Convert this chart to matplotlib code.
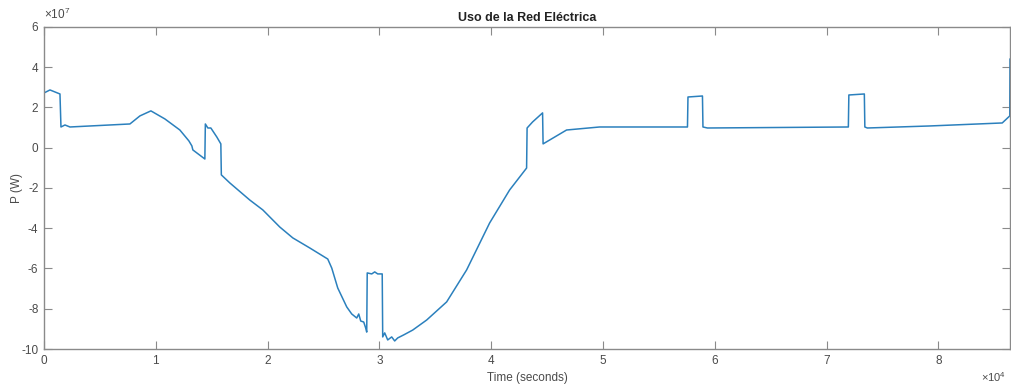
import matplotlib.pyplot as plt

plt.rcParams['font.family'] = ['Liberation Sans', 'DejaVu Sans']
plt.rcParams['axes.unicode_minus'] = False
plt.rcParams['mathtext.fontset'] = 'custom'
plt.rcParams['mathtext.rm'] = 'Liberation Sans'

# time in seconds, power in units of 1e7 W
t = [0, 536, 1430, 1519, 1877, 2324, 7686, 8580, 9563, 10814, 12154, 12959,
     13227, 13316, 14389, 14433, 14657, 14925, 15461, 15818, 15863, 16623,
     18410, 19572, 21091, 22253, 23772, 25381, 25739, 26275, 27079, 27526,
     27973, 28152, 28330, 28598, 28777, 28866, 28911, 29313, 29581, 29850,
     30252, 30296, 30475, 30743, 31100, 31368, 31637, 32173, 32977, 34228,
     36016, 37803, 39858, 41646, 43165, 43210, 43701, 44595, 44640, 46740,
     49690, 57554, 57599, 58894, 58939, 59341, 71943, 71988, 73373, 73418,
     73641, 79183, 85707, 86380, 86400]
p = [2.72, 2.87, 2.67, 1.03, 1.13, 1.03, 1.18, 1.58, 1.83, 1.43, 0.88, 0.34,
     0.09, -0.11, -0.56, 1.18, 0.98, 0.98, 0.53, 0.19, -1.35, -1.75,
     -2.60, -3.09, -3.94, -4.48, -4.98, -5.53, -5.98, -6.97, -7.91, -8.26,
     -8.46, -8.26, -8.61, -8.66, -8.96, -9.16, -6.22, -6.27, -6.17, -6.27,
     -6.27, -9.40, -9.20, -9.55, -9.40, -9.60, -9.45, -9.30, -9.06, -8.56,
     -7.66, -6.07, -3.74, -2.10, -1.01, 0.98, 1.28, 1.73, 0.19, 0.88,
     1.03, 1.03, 2.52, 2.57, 1.03, 0.98, 1.03, 2.62, 2.67, 1.03,
     0.98, 1.08, 1.23, 1.58, 4.40]

x_ticks = [0, 10000, 20000, 30000, 40000, 50000, 60000, 70000, 80000]
x_labels = ['0', '1', '2', '3', '4', '5', '6', '7', '8']
y_ticks = [-10, -8, -6, -4, -2, 0, 2, 4, 6]

axis_gray = '#8a8a8a'
text_gray = '#4a4a4a'

fig = plt.figure(figsize=(10.11, 3.85), dpi=100)
ax = fig.add_axes([0.0435, 0.0935, 0.9555, 0.8365])

ax.plot(t, p, color='#2b80bd', linewidth=1.1)

ax.set_xlim(0, 86400)
ax.set_ylim(-10, 6)
ax.set_xticks(x_ticks)
ax.set_xticklabels(x_labels)
ax.set_yticks(y_ticks)

for s in ax.spines.values():
    s.set_color(axis_gray)
    s.set_linewidth(1.0)
ax.tick_params(direction='in', length=6, width=0.8, colors=axis_gray,
               labelcolor=text_gray, labelsize=8.5, top=True, right=True,
               pad=4)

ax.set_title('Uso de la Red Eléctrica', fontsize=9, fontweight='bold',
             color='#222222', pad=4)
ax.set_xlabel('Time (seconds)', fontsize=8.5, color=text_gray, labelpad=4)
ax.set_ylabel('P (W)', fontsize=8.5, color=text_gray)
ax.yaxis.set_label_coords(-0.022, 0.5)

fig.text(0.044, 0.962, r'$\times10^{7}$', fontsize=8.5, color=text_gray,
         ha='left', va='center')
fig.text(0.995, 0.02, r'$\times10^{4}$', fontsize=8, color=text_gray,
         ha='right', va='center')

fig.savefig('out.png', dpi=100)
